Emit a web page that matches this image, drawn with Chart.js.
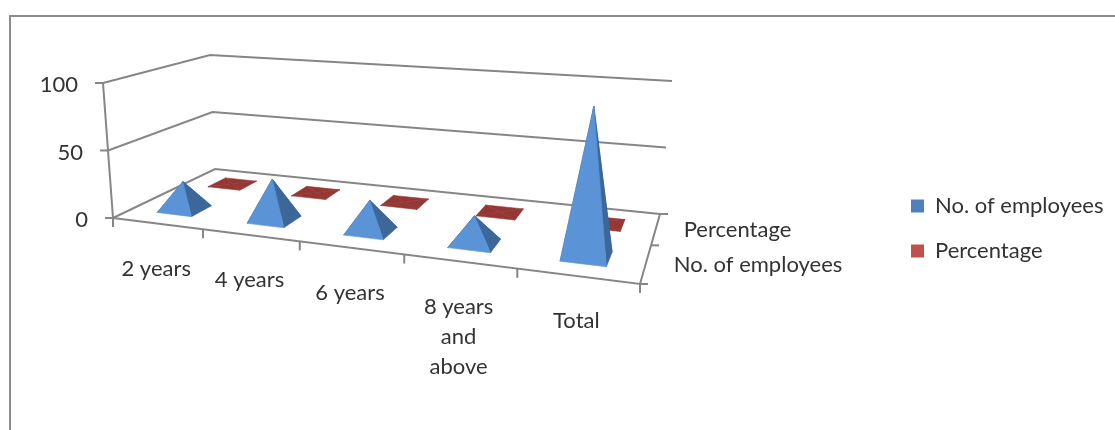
<!DOCTYPE html>
<html>
<head>
<meta charset="utf-8">
<script src="https://cdn.jsdelivr.net/npm/chart.js@4"></script>
<style>
  html, body { margin: 0; padding: 0; background: #fff; overflow: hidden; }
  #wrap { position: relative; width: 1115px; height: 430px; }
  #frame { position: absolute; left: 9px; top: 15px; right: 0; bottom: 0; border-left: 2px solid #8c8c8c; border-top: 2px solid #8c8c8c; }
  canvas { position: absolute; left: 0; top: 0; }
</style>
</head>
<body>
<div id="wrap">
  <div id="frame"></div>
  <canvas id="pyramid-chart" width="1115" height="430"></canvas>
</div>
<script>
const categories = [['2 years'], ['4 years'], ['6 years'], ['8 years', 'and', 'above'], ['Total']];
const seriesNames = ['No. of employees', 'Percentage'];
const employees = [21, 30, 22, 19, 100];
const percentages = [0.2, 0.3, 0.2, 0.2, 1];
const valueTicks = [0, 50, 100];

// the 3D box: floor and ceiling corners on the canvas
const floorBox = [[113, 218], [640, 284], [660, 214], [215, 169]];
const roofBox = [[103, 83], [652, 123], [672, 81], [210, 55]];
const valueMax = 100;
const axisColor = '#868686';
const textFont = '22px Lato';

// unit square -> quad homography (corners: front-left, front-right, back-right, back-left)
function squareToQuad(q) {
    const [x0, y0] = q[0], [x1, y1] = q[1], [x2, y2] = q[2], [x3, y3] = q[3];
    const dx1 = x1 - x2, dx2 = x3 - x2, sx = x0 - x1 + x2 - x3;
    const dy1 = y1 - y2, dy2 = y3 - y2, sy = y0 - y1 + y2 - y3;
    const den = dx1 * dy2 - dx2 * dy1;
    const g = (sx * dy2 - dx2 * sy) / den;
    const h = (dx1 * sy - sx * dy1) / den;
    const a = x1 - x0 + g * x1, b = x3 - x0 + h * x3;
    const d = y1 - y0 + g * y1, e = y3 - y0 + h * y3;
    return (u, w) => {
        const k = g * u + h * w + 1;
        return [(a * u + b * w + x0) / k, (d * u + e * w + y0) / k];
    };
}
const floorAt = squareToQuad(floorBox);
const roofAt = squareToQuad(roofBox);

// cat: 0..categories, row: 0..series, value: 0..valueMax
function project(cat, row, value) {
    const u = cat / categories.length, w = row / seriesNames.length;
    const f = floorAt(u, w), r = roofAt(u, w), t = value / valueMax;
    return { x: f[0] + (r[0] - f[0]) * t, y: f[1] + (r[1] - f[1]) * t };
}

function lineSet(points, label) {
    return { label, data: points, showLine: true, fill: false, borderColor: axisColor, borderWidth: 2, pointRadius: 0, tension: 0 };
}
function faceSet(points, color, label) {
    return { label, data: [...points, points[0]], showLine: true, fill: 'shape', backgroundColor: color, borderColor: color, borderWidth: 0.6, pointRadius: 0, tension: 0 };
}

const painted = [];

// walls, floor and axis ticks
valueTicks.forEach(v => {
    painted.push(lineSet([project(0, 0, v), project(0, 2, v), project(5, 2, v)], 'grid ' + v));
    const p = project(0, 0, v);
    painted.push(lineSet([p, { x: p.x - 8, y: p.y }], 'tick ' + v));
});
painted.push(lineSet([project(0, 0, 0), project(0, 0, valueMax)], 'value axis'));
painted.push(lineSet([project(0, 0, 0), project(5, 0, 0), project(5, 2, 0)], 'floor edge'));
categories.forEach((c, i) => {
    const p = project(i, 0, 0);
    painted.push(lineSet([p, { x: p.x, y: p.y + 9 }], 'cat tick ' + i));
});
const lastTick = project(5, 0, 0);
painted.push(lineSet([lastTick, { x: lastTick.x, y: lastTick.y + 9 }], 'cat tick end'));
[0, 1, 2].forEach(r => {
    const p = project(5, r, 0);
    painted.push(lineSet([p, { x: p.x + 8, y: p.y }], 'row tick ' + r));
});

// pyramids, back row first
const half = 0.195;
function addPyramid(i, row, value, colors, label) {
    const cx = i + 0.5, cy = row + 0.5;
    const a = project(cx - half, cy - half, 0), b = project(cx + half, cy - half, 0);
    const c = project(cx + half, cy + half, 0), d = project(cx - half, cy + half, 0);
    const top = project(cx, cy, value);
    painted.push(faceSet([d, c, top], colors.side, label));
    painted.push(faceSet([a, d, top], colors.side, label));
    painted.push(faceSet([b, c, top], colors.side, label));
    painted.push(faceSet([a, b, top], colors.front, label));
}
percentages.forEach((v, i) => addPyramid(i, 1, v, { front: '#953735', side: '#953735' }, seriesNames[1]));
employees.forEach((v, i) => addPyramid(i, 0, v, { front: '#5a93d6', side: '#3d6798' }, seriesNames[0]));

// axis text sits on the projected box
const axisText = {
    id: 'axisText',
    afterLayout(chart) {
        chart.legend.left = 888;
        chart.legend.top = 172;
    },
    afterDatasetsDraw(chart) {
        const { ctx, scales: { x, y } } = chart;
        const px = p => ({ x: x.getPixelForValue(p.x), y: y.getPixelForValue(p.y) });
        ctx.save();
        ctx.font = textFont;
        ctx.fillStyle = '#333333';
        ctx.textBaseline = 'middle';
        ctx.textAlign = 'right';
        valueTicks.forEach(v => {
            const p = px(project(0, 0, v));
            ctx.fillText(String(v), p.x - 25, p.y + 2);
        });
        ctx.textAlign = 'center';
        categories.forEach((lines, i) => {
            const p = px(project(i + 0.5, 0, 0));
            lines.forEach((t, n) => ctx.fillText(t, p.x - 1, p.y + 45 + n * 30));
        });
        ctx.textAlign = 'left';
        seriesNames.forEach((t, r) => {
            const p = px(project(5, r + 0.5, 0));
            ctx.fillText(t, p.x + 28, p.y + 1);
        });
        ctx.restore();
    }
};

new Chart(document.getElementById('pyramid-chart').getContext('2d'), {
    type: 'scatter',
    data: { datasets: painted.reverse() },
    plugins: [axisText],
    options: {
        responsive: false,
        animation: false,
        scales: {
            x: { type: 'linear', display: false, min: 0, max: 1115 },
            y: { type: 'linear', display: false, reverse: true, min: 0, max: 430 }
        },
        plugins: {
            tooltip: { enabled: false },
            legend: {
                position: 'chartArea',
                align: 'start',
                onClick: null,
                labels: {
                    font: { family: 'Lato', size: 22 },
                    color: '#333333',
                    boxWidth: 13,
                    boxHeight: 13,
                    padding: 23,
                    generateLabels: () => seriesNames.map((t, i) => ({
                        text: t,
                        fillStyle: ['#4f81bd', '#c0504d'][i],
                        strokeStyle: 'transparent',
                        lineWidth: 0,
                        fontColor: '#333333'
                    }))
                }
            }
        }
    }
});
</script>
</body>
</html>
